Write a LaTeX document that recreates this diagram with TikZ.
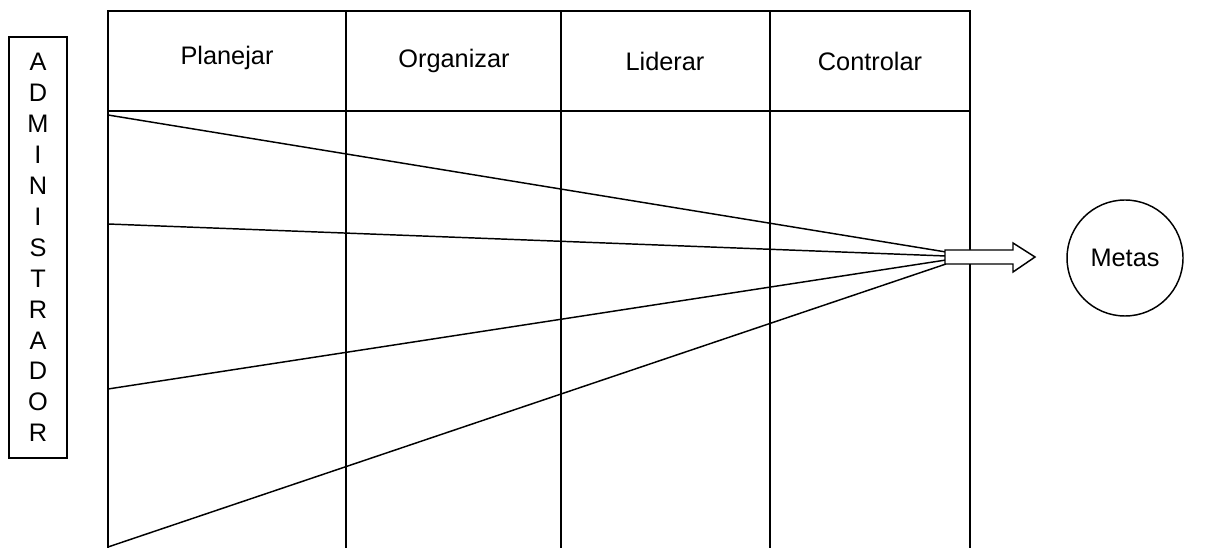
\documentclass[tikz,border=0pt]{standalone}
\usepackage{fontspec}
\setmainfont{Liberation Sans}
\begin{document}
\begin{tikzpicture}[x=0.75pt,y=-0.75pt,line width=1.5pt,
  lbl/.style={font=\fontsize{19}{23.2}\selectfont, inner sep=0pt},
  thin/.style={line width=1.1pt}]
\useasboundingbox (0,0) rectangle (1216,548);
% table grid
\coordinate (tl) at (108,11);
\coordinate (tr) at (970,11);
\draw (108,548) -- (108,11) -- (970,11) -- (970,548);
\draw (108,111) -- (970,111);
\foreach \x in {346,561,770} \draw (\x,11) -- (\x,548);
% headers
\node[lbl] (plan) at (227,58) {Planejar};
\node[lbl] (org) at (454,61) {Organizar};
\node[lbl] (lid) at (665,61) {Liderar};
\node[lbl] (ctl) at (870,61) {Controlar};
% administrator box
\node[draw, thin, lbl, minimum width=58*0.75pt, minimum height=421*0.75pt, align=center] (adm) at (38,247.5)
  {A\\D\\M\\I\\N\\I\\S\\T\\R\\A\\D\\O\\R};
% converging lines
\coordinate (s1) at (108,115);
\coordinate (s2) at (108,224);
\coordinate (s3) at (108,389);
\coordinate (s4) at (108,547);
\coordinate (e1) at (946,252);
\coordinate (e2) at (946,256);
\coordinate (e3) at (946,260);
\coordinate (e4) at (946,264);
\draw[thin] (s1) -- (e1);
\draw[thin] (s2) -- (e2);
\draw[thin] (s3) -- (e3);
\draw[thin] (s4) -- (e4);
% block arrow
\draw[thin, fill=white, line join=miter] (945,250) -- (1013,250) -- (1013,243) -- (1035,257) -- (1013,272) -- (1013,264) -- (945,264) -- cycle;
\coordinate (tip) at (1035,257);
% goals
\node[draw, thin, circle, minimum size=116*0.75pt, lbl] (metas) at (1125,258) {Metas};
\end{tikzpicture}
\end{document}
